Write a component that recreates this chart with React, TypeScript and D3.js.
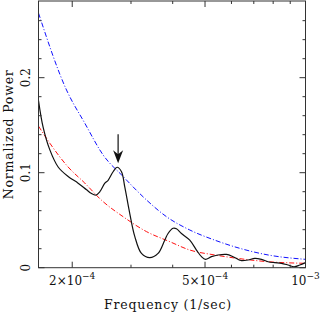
import React from "react";
import * as d3 from "d3";

// power spectrum (black)
const specFreq = [
  1.585e-4, 1.636e-4, 1.714e-4, 1.815e-4, 1.944e-4, 2.083e-4, 2.208e-4, 2.285e-4,
  2.354e-4, 2.42e-4, 2.505e-4, 2.562e-4, 2.652e-4, 2.726e-4, 2.81e-4, 2.874e-4,
  2.975e-4, 3.079e-4, 3.225e-4, 3.415e-4, 3.616e-4, 3.787e-4, 3.874e-4, 4.01e-4,
  4.105e-4, 4.249e-4, 4.5e-4, 4.713e-4, 4.879e-4, 5.014e-4, 5.226e-4, 5.47e-4,
  5.797e-4, 6.067e-4, 6.354e-4, 6.429e-4, 6.729e-4, 7.048e-4, 7.381e-4, 7.725e-4,
  8.089e-4, 8.472e-4, 8.866e-4, 9.242e-4, 9.612e-4, 1.0e-3,
];
const specPower = [
  0.176, 0.148, 0.124, 0.106, 0.096, 0.089, 0.082, 0.078,
  0.0765, 0.08, 0.089, 0.092, 0.101, 0.1057, 0.101, 0.085,
  0.057, 0.033, 0.015, 0.0105, 0.015, 0.029, 0.036, 0.0415,
  0.041, 0.036, 0.029, 0.0186, 0.0116, 0.0088, 0.0116, 0.0134,
  0.014, 0.0116, 0.008, 0.0074, 0.0081, 0.0099, 0.0088, 0.0063,
  0.0053, 0.0046, 0.0028, 0.001, 0.0028, 0.0053,
];

// red noise model (red dash-dot)
const redFreq = [1.585e-4, 1.714e-4, 1.944e-4, 2.182e-4, 2.448e-4, 2.841e-4, 3.338e-4, 3.92e-4, 4.5e-4, 5.347e-4, 6.354e-4, 7.725e-4, 1.0e-3];
const redPower = [0.149, 0.131, 0.106, 0.089, 0.071, 0.0537, 0.038, 0.0274, 0.0186, 0.0134, 0.0095, 0.0063, 0.0046];

// confidence level (blue dash-dot)
const blueFreq = [1.585e-4, 1.923e-4, 2.182e-4, 2.476e-4, 2.841e-4, 3.338e-4, 3.832e-4, 4.5e-4, 5.347e-4, 6.354e-4, 7.725e-4, 1.0e-3];
const bluePower = [0.268, 0.187, 0.152, 0.1186, 0.096, 0.0713, 0.0537, 0.0397, 0.029, 0.0204, 0.0134, 0.0088];

// arrow marking the peak
const arrowFreq = 2.745e-4;
const arrowTop = 0.1405;
const arrowTip = 0.11;

const xMajor = [2e-4, 5e-4];
const xMinor = [3e-4, 4e-4, 6e-4, 7e-4, 8e-4, 9e-4];
const xLabels = [
  { v: 2e-4, m: "2×10", e: "−4" },
  { v: 5e-4, m: "5×10", e: "−4" },
  { v: 1e-3, m: "10", e: "−3" },
];
const yMajor = [0, 0.1, 0.2];
const yMinor = [0.02, 0.04, 0.06, 0.08, 0.12, 0.14, 0.16, 0.18, 0.22, 0.24, 0.26];
const yLabels = ["0", "0.1", "0.2"];

export default function App() {
  const width = 322;
  const height = 314;
  const left = 38.5;
  const right = 305.5;
  const top = 1;
  const bottom = 267.7;

  const x = d3.scaleLog().domain([10 ** -3.8, 1e-3]).range([left, right]);
  const y = d3.scaleLinear().domain([0, 0.2807]).range([bottom, top]);

  const line = (fs: number[], ps: number[], curve: any) =>
    d3
      .line<number>()
      .x((_, i) => x(fs[i]))
      .y((p) => y(p))
      .curve(curve)(ps) as string;

  const font = "'DejaVu Serif', serif";
  const axisColor = "#333";

  const ay0 = y(arrowTop);
  const ay1 = y(arrowTip);
  const ax = x(arrowFreq);

  return (
    <svg
      width={width}
      height={height}
      style={{ position: "absolute", left: 0, top: 0, background: "#fff" }}
    >
      <defs>
        <clipPath id="plot">
          <rect x={left} y={top} width={right - left} height={bottom - top} />
        </clipPath>
      </defs>
      <g clipPath="url(#plot)">
        <path
          d={line(blueFreq, bluePower, d3.curveMonotoneX)}
          fill="none"
          stroke="#1010ff"
          strokeWidth={1}
          strokeDasharray="5,2,1,2"
        />
        <path
          d={line(redFreq, redPower, d3.curveMonotoneX)}
          fill="none"
          stroke="#ff1010"
          strokeWidth={1}
          strokeDasharray="5,2,1,2"
        />
        <path
          d={line(specFreq, specPower, d3.curveCatmullRom.alpha(0.5))}
          fill="none"
          stroke="#111"
          strokeWidth={1.2}
        />
      </g>
      {/* arrow */}
      <line x1={ax} x2={ax} y1={ay0} y2={ay1 - 6} stroke="#111" strokeWidth={1.2} />
      <path
        d={`M${ax},${ay1} L${ax - 5},${ay1 - 13} L${ax},${ay1 - 9} L${ax + 5},${ay1 - 13} Z`}
        fill="#111"
      />
      {/* frame */}
      <rect
        x={left}
        y={top}
        width={right - left}
        height={bottom - top}
        fill="none"
        stroke={axisColor}
        strokeWidth={1}
      />
      {/* x ticks, bottom and top */}
      {xMajor.map((v, i) => (
        <g key={"xM" + i}>
          <line x1={x(v)} x2={x(v)} y1={bottom} y2={bottom - 6} stroke={axisColor} />
          <line x1={x(v)} x2={x(v)} y1={top} y2={top + 6} stroke={axisColor} />
        </g>
      ))}
      {xMinor.map((v, i) => (
        <g key={"xm" + i}>
          <line x1={x(v)} x2={x(v)} y1={bottom} y2={bottom - 3} stroke={axisColor} />
          <line x1={x(v)} x2={x(v)} y1={top} y2={top + 3} stroke={axisColor} />
        </g>
      ))}
      {/* y ticks, left and right */}
      {yMajor.map((v, i) => (
        <g key={"yM" + i}>
          <line x1={left} x2={left + 6} y1={y(v)} y2={y(v)} stroke={axisColor} />
          <line x1={right} x2={right - 6} y1={y(v)} y2={y(v)} stroke={axisColor} />
        </g>
      ))}
      {yMinor.map((v, i) => (
        <g key={"ym" + i}>
          <line x1={left} x2={left + 3} y1={y(v)} y2={y(v)} stroke={axisColor} />
          <line x1={right} x2={right - 3} y1={y(v)} y2={y(v)} stroke={axisColor} />
        </g>
      ))}
      {/* x tick labels */}
      {xLabels.map((d, i) => (
        <text
          key={"xl" + i}
          x={x(d.v)}
          y={285}
          textAnchor="middle"
          fontFamily={font}
          fontSize={12}
          fill="#111"
        >
          {d.m}
          <tspan dy={-6} fontSize={9}>
            {d.e}
          </tspan>
        </text>
      ))}
      {/* y tick labels (rotated) */}
      {yMajor.map((v, i) => (
        <text
          key={"yl" + i}
          transform={`translate(30,${y(v)}) rotate(-90)`}
          textAnchor="middle"
          fontFamily={font}
          fontSize={12}
          fill="#111"
        >
          {yLabels[i]}
        </text>
      ))}
      {/* axis titles */}
      <text
        x={168}
        y={309}
        textAnchor="middle"
        fontFamily={font}
        fontSize={12.5}
        letterSpacing={0.8}
        fill="#111"
      >
        Frequency (1/sec)
      </text>
      <text
        transform={`translate(13,${(top + bottom) / 2}) rotate(-90)`}
        textAnchor="middle"
        fontFamily={font}
        fontSize={12.5}
        letterSpacing={0.8}
        fill="#111"
      >
        Normalized Power
      </text>
    </svg>
  );
}
